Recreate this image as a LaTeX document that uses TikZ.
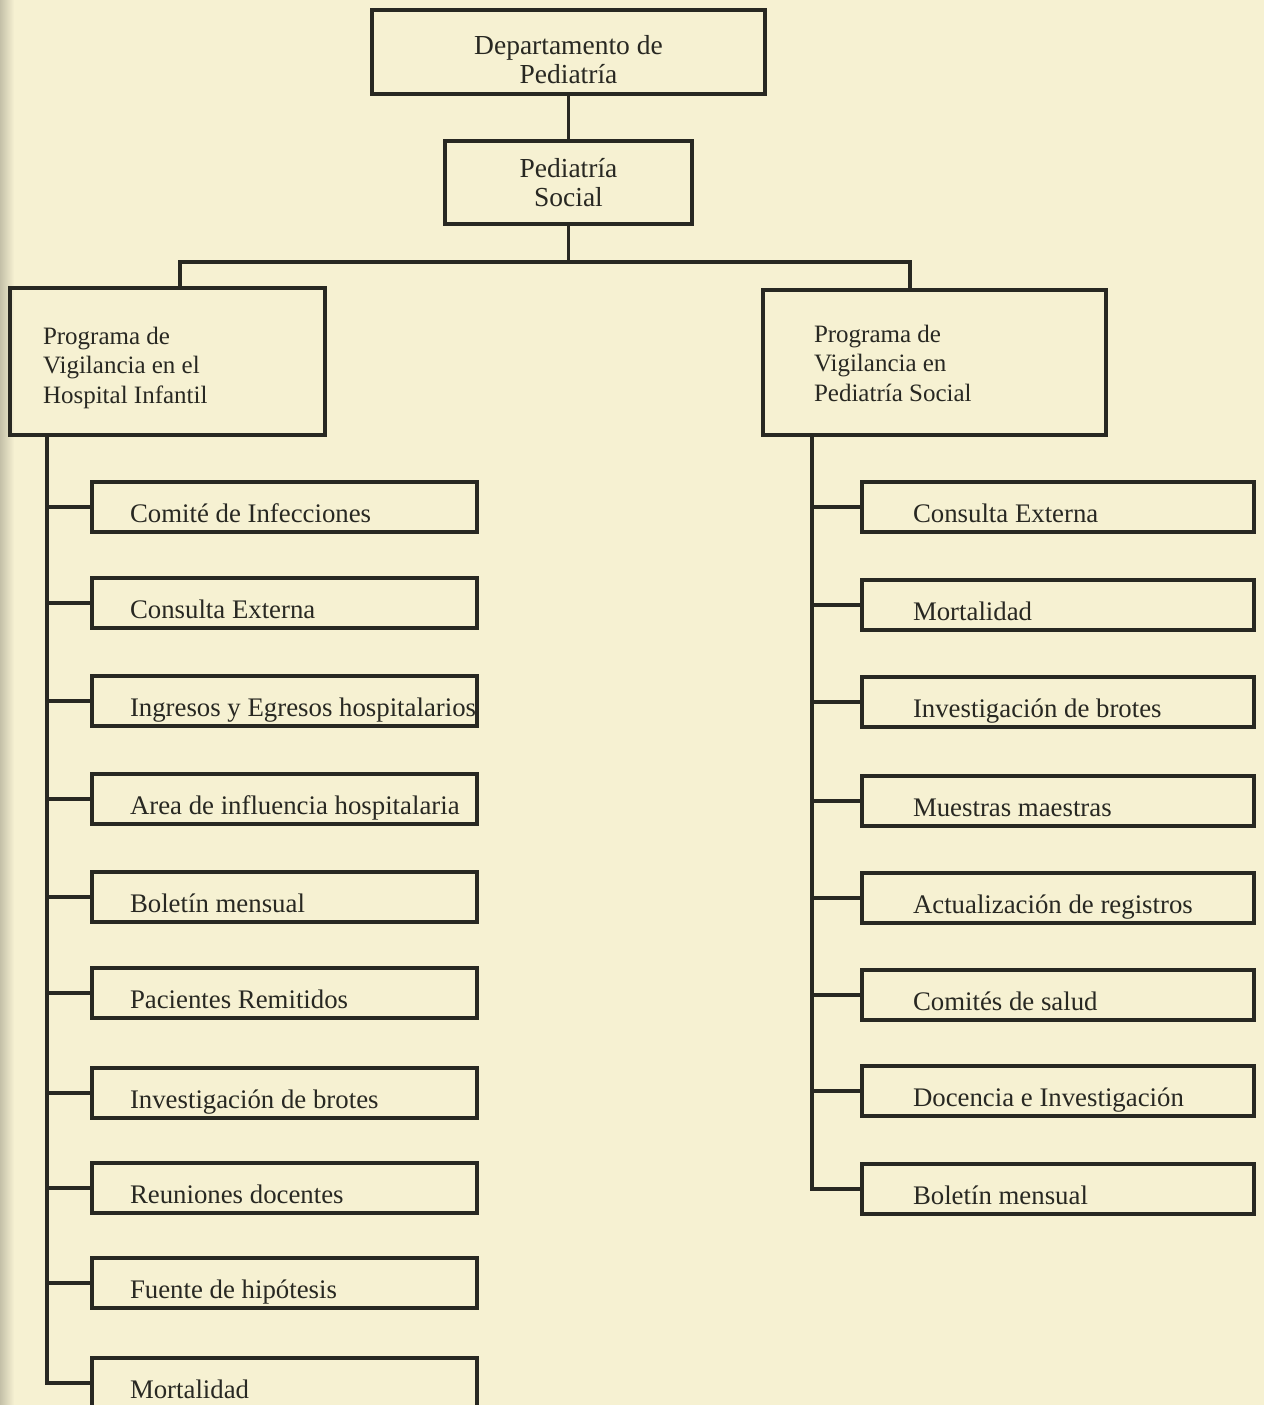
\documentclass[tikz,border=0pt]{standalone}
\usepackage{fontspec}
\setmainfont{Liberation Serif}
\definecolor{paper}{RGB}{246,241,210}
\definecolor{edge}{RGB}{196,192,168}
\definecolor{ink}{RGB}{40,40,34}
\newcommand\Ltx[1]{\makebox[385pt][l]{\hspace*{38pt}#1}}
\newcommand\Rtx[1]{\makebox[392pt][l]{\hspace*{51pt}#1}}
\newcommand\Mtx[3]{\parbox[t]{#1}{\raggedright\leftskip=#2\relax #3}}
\newcommand\Ctx[2]{\parbox[t]{#1}{\centering #2}}
\begin{document}
\begin{tikzpicture}[x=1pt,y=-1pt,
  box/.style={draw=ink, line width=4pt, inner sep=0pt,
    font=\fontsize{25}{29.5}\selectfont, text=ink},
  head/.style={box, font=\fontsize{27.5}{29}\selectfont},
  sub/.style={box, anchor=west, minimum height=50pt,
    text height=30pt, text depth=0pt, font=\fontsize{26.8}{30}\selectfont},
  wire/.style={draw=ink, line width=3.8pt}]
\fill[paper] (0,0) rectangle (1264,1405);
\useasboundingbox (0,0) rectangle (1264,1405);
\shade[left color=edge, right color=paper] (0,0) rectangle (14,1405);

% top nodes
\node[head, minimum width=393pt, minimum height=84pt, text height=6pt, text depth=0pt]
  (dep) at (568.5,52) {\Ctx{393pt}{Departamento de\\Pediatría}};
\node[head, minimum width=247pt, minimum height=83pt, text height=0pt, text depth=11pt]
  (ps) at (568.5,182.5) {\Ctx{247pt}{Pediatría\\Social}};
\node[box, minimum width=315pt, minimum height=147pt, text height=0pt, text depth=35pt]
  (hi) at (167.5,361.5) {\Mtx{315pt}{33pt}{Programa de\\Vigilancia en el\\Hospital Infantil}};
\node[box, minimum width=343pt, minimum height=145pt, text height=0pt, text depth=41pt]
  (sp) at (934.5,362.5) {\Mtx{343pt}{51pt}{Programa de\\Vigilancia en\\Pediatría Social}};

% left column
\node[sub] (l1) at (90,507) {\Ltx{Comité de Infecciones}};
\node[sub] (l2) at (90,603) {\Ltx{Consulta Externa}};
\node[sub] (l3) at (90,701) {\Ltx{Ingresos y Egresos hospitalarios}};
\node[sub] (l4) at (90,799) {\Ltx{Area de influencia hospitalaria}};
\node[sub] (l5) at (90,897) {\Ltx{Boletín mensual}};
\node[sub] (l6) at (90,993) {\Ltx{Pacientes Remitidos}};
\node[sub] (l7) at (90,1093) {\Ltx{Investigación de brotes}};
\node[sub] (l8) at (90,1188) {\Ltx{Reuniones docentes}};
\node[sub] (l9) at (90,1283) {\Ltx{Fuente de hipótesis}};
\node[sub] (l10) at (90,1383) {\Ltx{Mortalidad}};

% right column
\node[sub] (r1) at (860,507) {\Rtx{Consulta Externa}};
\node[sub] (r2) at (860,605) {\Rtx{Mortalidad}};
\node[sub] (r3) at (860,702) {\Rtx{Investigación de brotes}};
\node[sub] (r4) at (860,801) {\Rtx{Muestras maestras}};
\node[sub] (r5) at (860,898) {\Rtx{Actualización de registros}};
\node[sub] (r6) at (860,995) {\Rtx{Comités de salud}};
\node[sub] (r7) at (860,1091) {\Rtx{Docencia e Investigación}};
\node[sub] (r8) at (860,1189) {\Rtx{Boletín mensual}};

% connectors
\coordinate (bl) at (180,262);
\coordinate (br) at (910,262);
\coordinate (lt) at (47,435);
\coordinate (rt) at (812,435);
\draw[wire] (dep.south) -- (ps.north);
\draw[wire] (ps.south) -- (ps.south |- bl);
\draw[wire] (hi.north -| bl) -- (bl) -- (br) -- (sp.north -| br);
\draw[wire] (hi.south -| lt) -- (l10.west -| lt) -- (l10.west);
\foreach \n in {l1,l2,l3,l4,l5,l6,l7,l8,l9}
  \draw[wire] (\n.west) -- (\n.west -| lt);
\draw[wire] (sp.south -| rt) -- (r8.west -| rt) -- (r8.west);
\foreach \n in {r1,r2,r3,r4,r5,r6,r7}
  \draw[wire] (\n.west) -- (\n.west -| rt);
\end{tikzpicture}
\end{document}
